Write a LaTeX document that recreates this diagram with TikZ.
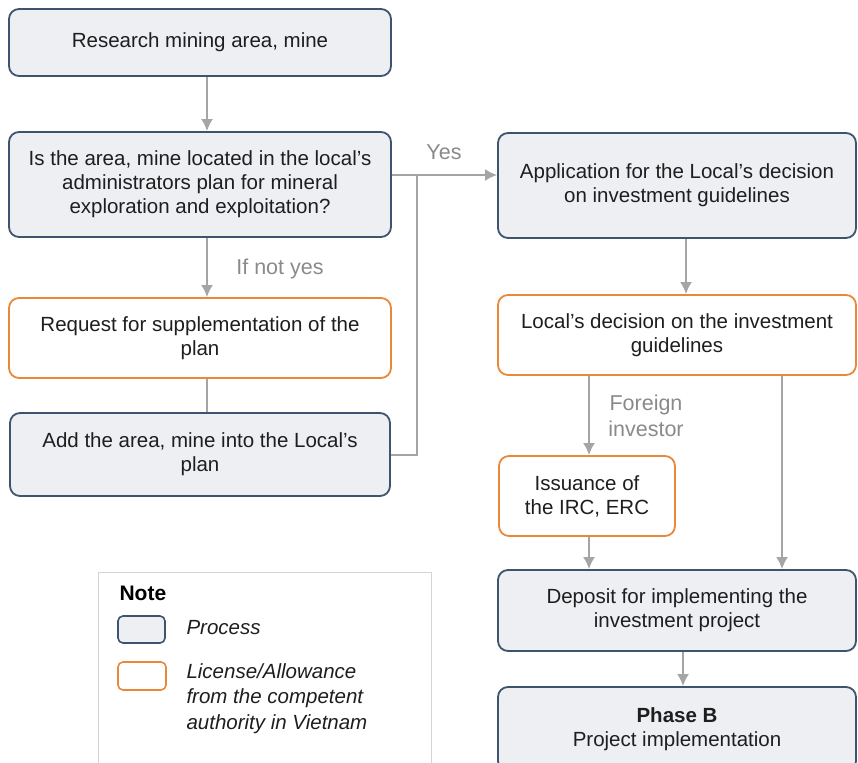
\documentclass[tikz,border=0pt]{standalone}
\usepackage{fontspec}
\setmainfont{Liberation Sans}
\usetikzlibrary{arrows.meta}
\definecolor{procline}{HTML}{3E546E}
\definecolor{procfill}{HTML}{EEEFF2}
\definecolor{licline}{HTML}{E8893A}
\definecolor{flowgray}{HTML}{A5A5A5}
\definecolor{lblgray}{HTML}{8A8A8A}
\definecolor{txt}{HTML}{1E1E1E}
\definecolor{notegray}{HTML}{D4D4D4}

\begin{document}
\begin{tikzpicture}[x=1pt,y=-1pt,>={Latex[length=12pt,width=12pt]},
  font=\fontsize{20.5}{24}\selectfont,
  box/.style={rounded corners=10pt,line width=1.8pt,align=center,text=txt,inner sep=0pt},
  proc/.style={box,draw=procline,fill=procfill},
  lic/.style={box,draw=licline,fill=white},
  flow/.style={draw=flowgray,line width=2pt},
  lbl/.style={text=lblgray,font=\fontsize{21.5}{25}\selectfont}]
\clip (0,0) rectangle (858,762);

% left column
\node[proc,minimum width=382,minimum height=67] (res) at (200,42.5){Research mining area, mine};
\node[proc,minimum width=382,minimum height=105] (quest) at (200,184.5)
  {Is the area, mine located in the local’s\\administrators plan for mineral\\exploration and exploitation?};
\node[lic,minimum width=382,minimum height=80] (req) at (200,338)
  {Request for supplementation of the\\plan};
\node[proc,minimum width=380,minimum height=83] (add) at (200,454.5)
  {Add the area, mine into the Local’s\\plan};

% right column
\node[proc,minimum width=358,minimum height=105] (app) at (677,185.5)
  {Application for the Local’s decision\\on investment guidelines};
\node[lic,minimum width=358,minimum height=80] (dec) at (677,335)
  {Local’s decision on the investment\\guidelines};
\node[lic,minimum width=176,minimum height=80] (irc) at (587,496)
  {Issuance of\\the IRC, ERC};
\node[proc,minimum width=358,minimum height=81] (dep) at (677,610.5)
  {Deposit for implementing the\\investment project};
\node[proc,minimum width=358,minimum height=84] (phb) at (677,729)
  {\textbf{Phase B}\\Project implementation};

% connectors
\coordinate (jn) at (417,175);
\draw[->,flow] ([xshift=7]res.south) -- ([xshift=7]quest.north);
\draw[->,flow] (quest.east |- jn) -- (app.west |- jn);
\draw[flow] (add.east) -| (jn);
\draw[->,flow] ([xshift=7]quest.south) -- ([xshift=7]req.north);
\draw[flow] ([xshift=7]req.south) -- ([xshift=7]add.north);
\draw[->,flow] ([xshift=9]app.south) -- ([xshift=9]dec.north);
\draw[->,flow] ([xshift=2]irc.north |- dec.south) -- ([xshift=2]irc.north);
\draw[->,flow] ([xshift=105]dec.south) -- ([xshift=105]dep.north);
\draw[->,flow] ([xshift=2]irc.south) -- ([xshift=2]irc.south |- dep.north);
\draw[->,flow] ([xshift=6]dep.south) -- ([xshift=6]phb.north);

\node[lbl] (yes) at (444,152){Yes};
\node[lbl] (ifnot) at (280,269){If not yes};
\node[lbl,align=center,font=\fontsize{21.5}{26}\selectfont] (foreign) at (646,415.5){Foreign\\investor};

% note
\draw[notegray,line width=1pt] (98,780) |- (431,572) -- (431,780);
\node[anchor=west,font=\fontsize{21}{24}\selectfont\bfseries] (note) at (116,593){Note};
\node[proc,line width=1.6pt,rounded corners=5pt,minimum width=47,minimum height=27] (kproc) at (141.5,629.5){};
\node[lic,line width=1.6pt,rounded corners=5pt,minimum width=48,minimum height=28] (klic) at (142,676){};
\node[anchor=west,text=txt] (tproc) at (183,628){\itshape Process};
\node[anchor=north west,align=left,text=txt,font=\fontsize{20.5}{25.5}\selectfont\itshape] (tlic) at (183,660)
  {License/Allowance\\from the competent\\authority in Vietnam};
\end{tikzpicture}
\end{document}
